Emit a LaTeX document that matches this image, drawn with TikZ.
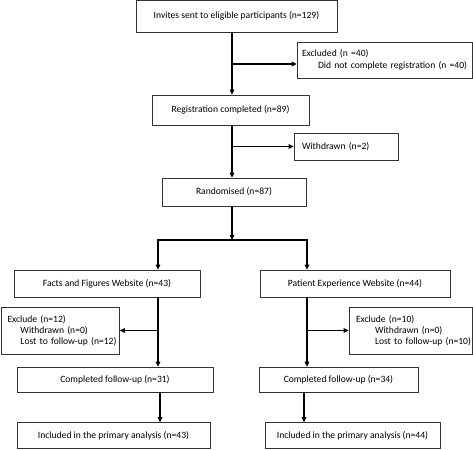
\documentclass[tikz,border=0pt]{standalone}
\usepackage{fontspec}
\setmainfont{Carlito}
\usetikzlibrary{arrows.meta}
\begin{document}
\begin{tikzpicture}[x=1pt,y=-1pt,
  box/.style={draw=black!80, line width=0.75pt, inner sep=0pt,
    font=\fontsize{9.6}{11.2}\selectfont, align=center},
  lbox/.style={box, align=left},
  conn/.style={line width=1.3pt, black, line join=miter},
  tip/.tip={Triangle[length=5pt,width=4.6pt]},
  arr/.style={conn, -tip}]
\useasboundingbox (0,0) rectangle (473,449);

% boxes
\node[box, minimum width=201pt, minimum height=31.5pt] (inv) at (236.5,16.25)
  {Invites sent to eligible participants (n=129)};
\node[lbox, minimum width=175pt, minimum height=36pt, text width=165pt, inner xsep=5pt,
  font=\fontsize{9.6}{12.5}\selectfont] (exc1) at (384.5,60)
  {\mbox{Excluded (n =40)}\\\mbox{\hspace*{16pt}Did not complete registration (n =40)}};
\node[box, minimum width=157pt, minimum height=30pt] (reg) at (230.5,110)
  {Registration completed (n=89)};
\node[lbox, minimum width=104pt, minimum height=27pt, text width=88pt, inner xsep=8pt] (wd) at (346,146.5)
  {\mbox{Withdrawn (n=2)}};
\node[box, minimum width=144pt, minimum height=28pt] (rand) at (234,192)
  {Randomised (n=87)};
\node[box, minimum width=186pt, minimum height=27pt] (facts) at (107,283.5)
  {Facts and Figures Website (n=43)};
\node[box, minimum width=190pt, minimum height=27pt] (pat) at (355,283.5)
  {Patient Experience Website (n=44)};
\node[lbox, minimum width=118.5pt, minimum height=47pt, text width=105.5pt, inner xsep=6.5pt] (exL) at (60.25,330.5)
  {\mbox{Exclude (n=12)}\\\mbox{\hspace*{13pt}Withdrawn (n=0)}\\\mbox{\hspace*{13pt}Lost to follow-up (n=12)}};
\node[lbox, minimum width=123pt, minimum height=47pt, text width=109pt, inner xsep=7pt] (exR) at (410.5,330.5)
  {\mbox{Exclude (n=10)}\\\mbox{\hspace*{19pt}Withdrawn (n=0)}\\\mbox{\hspace*{19pt}Lost to follow-up (n=10)}};
\node[box, minimum width=196pt, minimum height=25pt] (compL) at (115,379.5)
  {Completed follow-up (n=31)};
\node[box, minimum width=159pt, minimum height=25pt] (compR) at (338.5,379.5)
  {Completed follow-up (n=34)};
\node[box, minimum width=193pt, minimum height=26pt] (incL) at (113.5,435.5)
  {Included in the primary analysis (n=43)};
\node[box, minimum width=175pt, minimum height=26pt] (incR) at (352.5,435.5)
  {Included in the primary analysis (n=44)};

% connector columns
\coordinate (c1) at (232,0);
\coordinate (b1) at (232,64);
\coordinate (sp) at (232,240);
\coordinate (spL) at (158,240);
\coordinate (spR) at (307,240);
\coordinate (dL) at (160,0);
\coordinate (dR) at (304,0);

\draw[arr] (inv.south -| c1) -- (reg.north -| c1);
\draw[arr] (b1) -- (b1 -| exc1.west);
\draw[arr] (reg.south -| c1) -- (rand.north -| c1);
\draw[arr] (c1 |- wd.west) -- (wd.west);
\draw[arr] (rand.south -| sp) -- (sp);
\draw[conn, tip-tip] (spL |- facts.north) -- (spL) -- (spR) -- (spR |- pat.north);
\draw[arr] (facts.south -| spL) -- (compL.north -| spL);
\draw[arr] (spL |- exL.east) -- (exL.east);
\draw[arr] (pat.south -| spR) -- (compR.north -| spR);
\draw[arr] (spR |- exR.west) -- (exR.west);
\draw[arr] (compL.south -| dL) -- (incL.north -| dL);
\draw[arr] (compR.south -| dR) -- (incR.north -| dR);
\end{tikzpicture}
\end{document}
